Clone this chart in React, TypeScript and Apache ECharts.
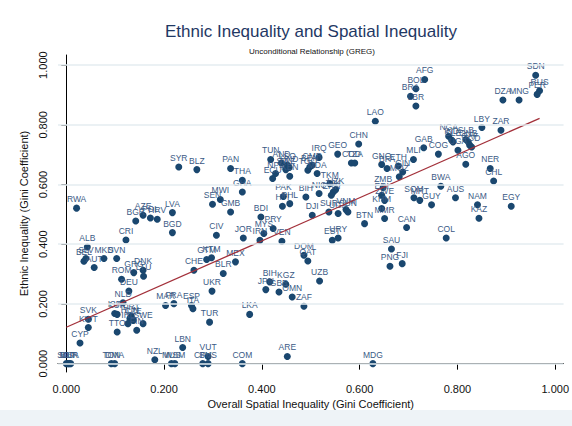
import { useEffect, useRef } from "react";
import * as echarts from "echarts";

// Country codes with spatial (x) and ethnic (y) Gini coefficients
const codes = [
  "SDN", "RUS", "PER", "DZA", "MNG", "AFG", "BOL", "BRA", "LBR", "LAO",
  "LBY", "ZAR", "NGA", "IND", "SLE", "SLB", "GNB", "CAF", "TCD", "UGA",
  "CHN", "GAB", "COG", "MLI", "GEO", "IRQ", "COD", "TZA", "GNQ", "BFA",
  "ETH", "GIN", "MOZ", "AGO", "NER", "CHL", "BWA", "AUS", "NAM", "KAZ",
  "EGY", "GUY", "SOM", "MRT", "CAN", "COL", "SAU", "PNG", "FJI", "BTN",
  "ZMB", "ERI", "ZWE", "KHM", "MMR",
  "SYR", "BLZ", "PAN", "TUN", "AND", "LSO", "SWZ", "HND", "ECU", "NPL",
  "KEN", "TGO", "BEN", "CMR", "MDA", "BIH2", "NIC", "TKM", "TJK", "UZK",
  "ERN", "HTI", "PHL", "PAK", "SUR", "UGA2", "VNM", "SUN", "BDI", "GHA",
  "THA", "MWI", "SEN", "GMB", "DJI", "CIV", "JOR", "IRN", "MYS", "PRY",
  "VEN", "URY", "EST", "DOM", "QAT", "CHE", "GTM", "KTM", "BLR", "MEX",
  "UKR", "TUR", "LKA", "BIH", "KGZ", "JPN", "GBR", "OMN", "ZAF", "UZB",
  "MAR", "FRA", "ESP", "ITA",
  "RWA", "ALB", "SLV", "BEL", "MKD", "SVN", "AUT", "CRI", "BGR", "AZE",
  "POL", "HRV", "LVA", "BGD", "GRC", "DNK", "LTU", "ROM", "DEU", "NLD",
  "ISR", "LUX", "PRT", "HUN", "IRL", "CZE", "SWE", "FIN", "TTO", "SVK",
  "KWT", "CYP", "SGP", "MLT", "BHR", "LCA", "TON", "DMA", "NZL", "LBN",
  "MUS", "WSM", "CPV", "BHS", "VUT", "COM", "ARE", "MDG",
];

const spatialGini = [
  0.960, 0.968, 0.963, 0.893, 0.926, 0.733, 0.715, 0.704, 0.715, 0.632,
  0.850, 0.889, 0.782, 0.788, 0.791, 0.817, 0.822, 0.825, 0.829, 0.801,
  0.598, 0.731, 0.761, 0.710, 0.555, 0.517, 0.583, 0.590, 0.645, 0.656,
  0.679, 0.688, 0.681, 0.817, 0.867, 0.874, 0.766, 0.796, 0.841, 0.844,
  0.910, 0.747, 0.711, 0.723, 0.696, 0.777, 0.665, 0.662, 0.687, 0.610,
  0.648, 0.645, 0.651, 0.645, 0.651,
  0.230, 0.267, 0.336, 0.418, 0.440, 0.452, 0.449, 0.456, 0.422, 0.428,
  0.457, 0.494, 0.498, 0.503, 0.513, 0.490, 0.517, 0.539, 0.546, 0.551,
  0.542, 0.442, 0.457, 0.444, 0.537, 0.556, 0.572, 0.576, 0.398, 0.360,
  0.360, 0.315, 0.299, 0.336, 0.503, 0.307, 0.362, 0.396, 0.404, 0.423,
  0.441, 0.556, 0.544, 0.486, 0.494, 0.261, 0.287, 0.297, 0.321, 0.346,
  0.298, 0.293, 0.375, 0.416, 0.449, 0.408, 0.435, 0.462, 0.486, 0.518,
  0.203, 0.220, 0.256, 0.259,
  0.021, 0.043, 0.040, 0.036, 0.077, 0.103, 0.057, 0.122, 0.142, 0.157,
  0.172, 0.186, 0.217, 0.217, 0.138, 0.157, 0.158, 0.113, 0.128, 0.116,
  0.099, 0.104, 0.133, 0.130, 0.126, 0.137, 0.157, 0.144, 0.104, 0.045,
  0.045, 0.028, 0.000, 0.003, 0.006, 0.009, 0.092, 0.099, 0.181, 0.238,
  0.215, 0.222, 0.279, 0.290, 0.290, 0.360, 0.452, 0.627,
];

const ethnicGini = [
  0.966, 0.914, 0.902, 0.883, 0.883, 0.952, 0.921, 0.896, 0.863, 0.812,
  0.791, 0.782, 0.762, 0.749, 0.743, 0.751, 0.743, 0.732, 0.726, 0.715,
  0.736, 0.723, 0.702, 0.684, 0.702, 0.691, 0.672, 0.672, 0.667, 0.654,
  0.662, 0.642, 0.626, 0.668, 0.654, 0.612, 0.594, 0.556, 0.532, 0.487,
  0.527, 0.532, 0.556, 0.547, 0.456, 0.421, 0.384, 0.326, 0.335, 0.469,
  0.590, 0.564, 0.547, 0.520, 0.486,
  0.659, 0.650, 0.654, 0.684, 0.672, 0.665, 0.650, 0.657, 0.620, 0.637,
  0.628, 0.648, 0.659, 0.665, 0.637, 0.558, 0.570, 0.603, 0.575, 0.583,
  0.564, 0.527, 0.536, 0.560, 0.508, 0.503, 0.516, 0.508, 0.491, 0.575,
  0.614, 0.550, 0.534, 0.508, 0.497, 0.430, 0.421, 0.413, 0.436, 0.453,
  0.410, 0.421, 0.413, 0.363, 0.344, 0.313, 0.349, 0.355, 0.302, 0.341,
  0.243, 0.139, 0.165, 0.274, 0.266, 0.248, 0.240, 0.223, 0.192, 0.277,
  0.195, 0.201, 0.195, 0.184,
  0.521, 0.391, 0.352, 0.343, 0.352, 0.352, 0.322, 0.414, 0.478, 0.497,
  0.488, 0.484, 0.506, 0.439, 0.305, 0.313, 0.293, 0.283, 0.243, 0.204,
  0.168, 0.165, 0.159, 0.151, 0.134, 0.145, 0.134, 0.112, 0.106, 0.149,
  0.121, 0.069, 0.000, 0.000, 0.000, 0.000, 0.000, 0.000, 0.013, 0.054,
  0.000, 0.000, 0.000, 0.000, 0.024, 0.000, 0.024, 0.000,
];

// Linear fit drawn across the observed range of spatial inequality
const fitX = [0.0, 0.968];
const fitY = [0.122, 0.822];

const tickValues = [0, 0.2, 0.4, 0.6, 0.8, 1.0];

const FONT = "'Liberation Sans', Arial, Helvetica, sans-serif";
const NAVY = "#1a476f";

export default function App() {
  const ref = useRef<HTMLDivElement>(null);

  useEffect(() => {
    if (!ref.current) return;
    const chart = echarts.init(ref.current, null, { renderer: "svg" });

    const points = codes.map((c, i) => ({
      name: c.replace(/\d+$/, ""),
      value: [spatialGini[i], ethnicGini[i]],
    }));

    chart.setOption({
      animation: false,
      backgroundColor: "#ffffff",
      textStyle: { fontFamily: FONT },
      grid: { left: 58, right: 8, top: 55, bottom: 54 },
      graphic: [
        {
          type: "rect",
          left: 0,
          top: 410,
          shape: { width: 572, height: 16 },
          style: { fill: "#eef3f7" },
          silent: true,
        },
        {
          type: "text",
          x: 311,
          y: 31,
          style: {
            text: "Ethnic Inequality and Spatial Inequality",
            fill: "#1f3864",
            font: `17px ${FONT}`,
            textAlign: "center",
            textVerticalAlign: "middle",
          },
        },
        {
          type: "text",
          x: 312,
          y: 51,
          style: {
            text: "Unconditional Relationship (GREG)",
            fill: "#111111",
            font: `8px ${FONT}`,
            textAlign: "center",
            textVerticalAlign: "middle",
          },
        },
      ],
      xAxis: {
        type: "value",
        min: -0.017,
        max: 1.017,
        name: "Overall Spatial Inequality (Gini Coefficient)",
        nameLocation: "middle",
        nameGap: 24,
        nameTextStyle: { fontSize: 11, color: "#111" },
        axisLine: { lineStyle: { color: "#000", width: 1 } },
        axisTick: {
          customValues: tickValues,
          length: 6,
          lineStyle: { color: "#000" },
        },
        axisLabel: {
          customValues: tickValues,
          formatter: (v: number) => v.toFixed(3),
          fontSize: 11,
          color: "#111",
          margin: 11,
        },
        splitLine: { show: false },
      },
      yAxis: {
        type: "value",
        min: -0.028,
        max: 1.034,
        name: "Ethnic Inequality (Gini Coefficient)",
        nameLocation: "middle",
        nameGap: 23,
        nameTextStyle: { fontSize: 11, color: "#111" },
        axisLine: { show: true, lineStyle: { color: "#000", width: 1 } },
        axisTick: {
          show: true,
          customValues: tickValues,
          length: 5,
          lineStyle: { color: "#000" },
        },
        axisLabel: {
          customValues: tickValues,
          formatter: (v: number) => v.toFixed(3),
          fontSize: 11,
          color: "#111",
          rotate: 90,
          margin: 10,
        },
        splitLine: { show: false },
      },
      series: [
        {
          type: "scatter",
          data: [],
          silent: true,
          z: 1,
          markLine: {
            silent: true,
            symbol: "none",
            label: { show: false },
            lineStyle: { color: "#e4ecf0", width: 1.5, type: "solid" },
            data: tickValues.map((v) => ({ yAxis: v })),
          },
        },
        {
          type: "scatter",
          z: 3,
          symbolSize: 7,
          itemStyle: { color: NAVY, opacity: 1 },
          data: points,
          label: {
            show: true,
            position: "top",
            distance: 1,
            formatter: (p: any) => p.name,
            fontSize: 8.5,
            color: "#3a5a85",
            fontFamily: FONT,
          },
          emphasis: { disabled: true },
        },
        {
          type: "line",
          z: 4,
          symbol: "none",
          data: fitX.map((x, i) => [x, fitY[i]]),
          lineStyle: { color: "#a3303a", width: 1.3 },
          silent: true,
        },
      ],
    });

    return () => chart.dispose();
  }, []);

  return (
    <div
      ref={ref}
      style={{ position: "absolute", left: 0, top: 0, width: 572, height: 426 }}
    />
  );
}
